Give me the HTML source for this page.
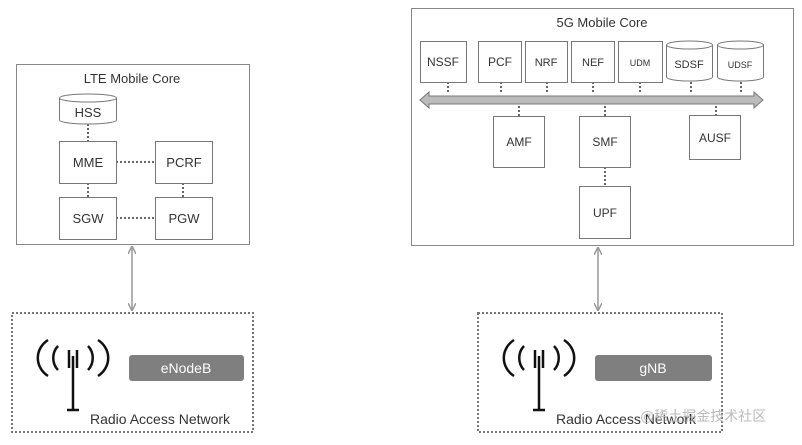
<!DOCTYPE html><html><head><meta charset="utf-8"><style>
body{margin:0;width:802px;height:440px;background:#fff;overflow:hidden;font-family:"Liberation Sans",sans-serif}
svg text{font-family:"Liberation Sans","Noto Sans CJK SC",sans-serif;fill:#333}
</style></head><body>
<svg width="802" height="440" viewBox="0 0 802 440" xmlns="http://www.w3.org/2000/svg">
<defs><marker id="ah" markerWidth="8" markerHeight="8" refX="7" refY="4" orient="auto-start-reverse" markerUnits="userSpaceOnUse"><path d="M0,0 L8,4 L0,8" fill="none" stroke="#999" stroke-width="1.5"/></marker></defs>
<g fill="#fff" stroke="#888" stroke-width="1">
<rect x="16.5" y="64.5" width="233" height="180"/>
<rect x="411.5" y="8.5" width="382" height="237"/>
</g>
<g font-size="13" text-anchor="middle">
<text x="132" y="83">LTE Mobile Core</text>
<text x="602" y="27">5G Mobile Core</text>
</g>
<g stroke="#666" stroke-width="2" stroke-dasharray="2,2">
<line x1="88" y1="124" x2="88" y2="141"/><line x1="116" y1="162" x2="155" y2="162"/>
<line x1="88" y1="183" x2="88" y2="197"/><line x1="183" y1="183" x2="183" y2="197"/>
<line x1="116" y1="218" x2="155" y2="218"/>
</g>
<g fill="#fff" stroke="#777">
<path d="M59.5,98 v22 a28.5,4 0 0 0 57,0 v-22"/><ellipse cx="88" cy="98" rx="28.5" ry="4"/>
<rect x="59.5" y="141.5" width="57" height="42"/><rect x="155.5" y="141.5" width="57" height="42"/>
<rect x="59.5" y="197.5" width="57" height="42"/><rect x="155.5" y="197.5" width="57" height="42"/>
</g>
<g font-size="13" text-anchor="middle">
<text x="88" y="117">HSS</text><text x="88" y="167">MME</text><text x="184" y="167">PCRF</text>
<text x="88" y="223">SGW</text><text x="184" y="223">PGW</text>
</g>
<g stroke="#666" stroke-width="2" stroke-dasharray="2,2">
<line x1="448" y1="82" x2="448" y2="93"/><line x1="501" y1="82" x2="501" y2="93"/><line x1="547" y1="82" x2="547" y2="93"/>
<line x1="593" y1="82" x2="593" y2="93"/><line x1="640" y1="82" x2="640" y2="93"/><line x1="691" y1="82" x2="691" y2="93"/><line x1="741" y1="82" x2="741" y2="93"/>
<line x1="519" y1="106" x2="519" y2="116"/><line x1="605" y1="106" x2="605" y2="116"/><line x1="716" y1="106" x2="716" y2="115"/>
<line x1="605" y1="167" x2="605" y2="186"/>
</g>
<path d="M420,100 L429,92 L429,96 L754,96 L754,92 L763,100 L754,108 L754,104 L429,104 L429,108 Z" fill="#bbb" stroke="#777"/>
<g fill="#fff" stroke="#777">
<rect x="420.5" y="41.5" width="46" height="41"/><rect x="478.5" y="41.5" width="43" height="41"/>
<rect x="525.5" y="41.5" width="42" height="41"/><rect x="571.5" y="41.5" width="43" height="41"/>
<rect x="618.5" y="41.5" width="44" height="41"/>
<path d="M666.5,45 v32 a23,4 0 0 0 46,0 v-32"/><ellipse cx="689.5" cy="45" rx="23" ry="4"/>
<path d="M717.5,45 v32 a23,4 0 0 0 46,0 v-32"/><ellipse cx="740.5" cy="45" rx="23" ry="4"/>
<rect x="493.5" y="116.5" width="51" height="51"/><rect x="579.5" y="116.5" width="51" height="51"/>
<rect x="689.5" y="115.5" width="51" height="44"/><rect x="579.5" y="186.5" width="51" height="52"/>
</g>
<g font-size="12" text-anchor="middle">
<text x="443" y="66">NSSF</text><text x="500" y="66">PCF</text><text x="546" y="66" font-size="11">NRF</text>
<text x="593" y="66" font-size="11">NEF</text><text x="640" y="66" font-size="9">UDM</text>
<text x="689" y="68" font-size="11">SDSF</text><text x="740" y="68" font-size="9">UDSF</text>
<text x="519" y="146">AMF</text><text x="605" y="146">SMF</text><text x="715" y="142">AUSF</text><text x="605" y="217">UPF</text>
</g>
<g stroke="#999" stroke-width="1.5">
<line x1="132" y1="247" x2="132" y2="310" marker-end="url(#ah)" marker-start="url(#ah)"/>
<line x1="598" y1="248" x2="598" y2="310" marker-end="url(#ah)" marker-start="url(#ah)"/>
</g>
<g fill="none" stroke="#777" stroke-width="2" stroke-dasharray="2,2">
<rect x="12" y="313" width="241" height="119"/><rect x="478" y="313" width="244" height="119"/>
</g>
<g id="ant" stroke="#111" stroke-width="2.5" fill="none">
<line x1="73" y1="356" x2="73" y2="410"/><line x1="67" y1="410" x2="79" y2="410"/>
<line x1="69" y1="350" x2="69" y2="368"/><line x1="77" y1="350" x2="77" y2="368"/>
<path d="M58,346 a14,16 0 0 0 0,24"/><path d="M88,346 a14,16 0 0 1 0,24"/>
<path d="M48,340 a24,22 0 0 0 0,36"/><path d="M98,340 a24,22 0 0 1 0,36"/>
</g>
<use href="#ant" x="466"/>
<rect x="129" y="355" width="115" height="26" rx="3" fill="#7f7f7f"/>
<rect x="595" y="355" width="117" height="26" rx="3" fill="#7f7f7f"/>
<g font-size="14" text-anchor="middle">
<text x="186" y="373" style="fill:#fff">eNodeB</text><text x="653" y="373" style="fill:#fff">gNB</text>
</g>
<g font-size="14">
<text x="90" y="424">Radio Access Network</text><text x="556" y="424">Radio Access Network</text>
<text x="640" y="421" style="fill:#bbb">@稀土掘金技术社区</text>
</g>
</svg>
</body></html>
